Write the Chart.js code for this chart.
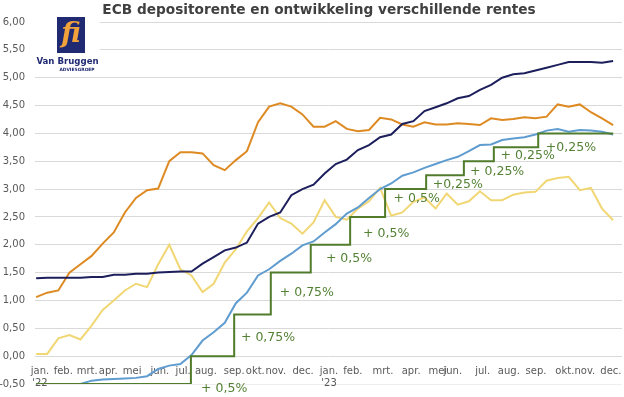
<!DOCTYPE html>
<html>
<head>
<meta charset="utf-8">
<script src="https://cdn.jsdelivr.net/npm/chart.js@4"></script>
<style>
html,body{margin:0;padding:0;background:#fff;}
#wrap{width:624px;height:397px;position:relative;}
</style>
</head>
<body>
<div id="wrap"><canvas id="c"></canvas></div>
<script>
// week index (0 = begin jan. 2022), sampled every two weeks
const weeks = [0,2,4,6,8,10,12,14,16,18,20,22,24,26,28,30,32,34,36,38,40,42,44,46,48,50,52,54,56,58,60,62,64,66,68,70,72,74,76,78,80,82,84,86,88,90,92,94,96,98,100,102,104];

const navySeries = [1.40,1.41,1.41,1.41,1.41,1.42,1.42,1.46,1.46,1.48,1.48,1.50,1.51,1.52,1.52,1.66,1.78,1.90,1.95,2.04,2.38,2.50,2.58,2.89,3.00,3.08,3.28,3.45,3.53,3.70,3.79,3.93,3.98,4.17,4.22,4.40,4.47,4.54,4.63,4.67,4.78,4.87,5.00,5.06,5.08,5.13,5.18,5.23,5.28,5.28,5.28,5.27,5.30];

const orangeSeries = [1.06,1.14,1.18,1.50,1.65,1.80,2.02,2.22,2.58,2.84,2.98,3.01,3.50,3.66,3.66,3.64,3.43,3.34,3.52,3.68,4.20,4.48,4.54,4.48,4.34,4.12,4.12,4.22,4.08,4.04,4.06,4.28,4.25,4.16,4.12,4.20,4.16,4.16,4.18,4.17,4.15,4.27,4.24,4.26,4.29,4.27,4.30,4.52,4.48,4.52,4.38,4.27,4.15];

const blueSeries = [-0.50,-0.50,-0.50,-0.50,-0.50,-0.44,-0.42,-0.41,-0.40,-0.39,-0.36,-0.23,-0.17,-0.14,0.02,0.28,0.43,0.60,0.95,1.14,1.45,1.56,1.71,1.84,1.99,2.06,2.22,2.37,2.56,2.67,2.84,3.00,3.10,3.24,3.30,3.38,3.45,3.52,3.58,3.68,3.79,3.80,3.88,3.91,3.93,3.98,4.05,4.08,4.03,4.06,4.05,4.03,3.98];

const yellowSeries = [0.04,0.04,0.32,0.38,0.30,0.55,0.83,1.00,1.18,1.30,1.24,1.65,2.00,1.56,1.45,1.15,1.30,1.68,1.92,2.24,2.48,2.76,2.48,2.38,2.20,2.40,2.80,2.50,2.45,2.65,2.78,3.02,2.52,2.58,2.77,2.85,2.65,2.92,2.72,2.78,2.96,2.80,2.80,2.90,2.94,2.95,3.15,3.20,3.22,2.98,3.02,2.65,2.44];

// ECB deposit rate: week of change and new rate
const depositWeeks = [0,27.9,35.7,42.3,49.5,56.6,62.9,70.3,77.1,82.5,90.5,104];
const depositRates = [-0.50,0.00,0.75,1.50,2.00,2.50,3.00,3.25,3.50,3.75,4.00,4.00];

// month tick labels and where they sit (week index)
const tickWeeks = [0.7,4.9,9.2,13.0,17.3,22.3,26.5,30.6,35.7,39.5,43.2,48.1,52.8,57.1,62.5,67.6,72.4,75.1,80.5,85.2,90.1,95.3,98.9,103.6];
const tickLabels = [["jan.","'22"],"feb.","mrt.","apr.","mei","jun.","jul.","aug.","sep.","okt.","nov.","dec.",["jan.","'23"],"feb.","mrt.","apr.","mei","jun.","jul.","aug.","sep.","okt.","nov.","dec."];

// step annotations: text, week, value
const stepTexts = ["+ 0,5%","+ 0,75%","+ 0,75%","+ 0,5%","+ 0,5%","+ 0,5%","+0,25%","+ 0,25%","+ 0,25%","+0,25%"];
const stepWeeks = [33.9,41.8,48.8,56.4,63.1,68.6,76.0,83.1,88.6,96.4];
const stepValues = [-0.585,0.333,1.14,1.75,2.20,2.83,3.07,3.32,3.59,3.75];

const titleText = 'ECB depositorente en ontwikkeling verschillende rentes';

const pts = (xs, ys) => xs.map((x, i) => ({x: x, y: ys[i]}));
const FONT = "'DejaVu Sans', Verdana, sans-serif";

const annotPlugin = {
  id: 'annot',
  afterDatasetsDraw(chart) {
    const ctx = chart.ctx, xs = chart.scales.x, ys = chart.scales.y;
    ctx.save();
    ctx.font = "12.5px " + FONT;
    ctx.fillStyle = '#548235';
    ctx.textAlign = 'center';
    ctx.textBaseline = 'middle';
    stepTexts.forEach((t, i) => {
      ctx.fillText(t, xs.getPixelForValue(stepWeeks[i]), ys.getPixelForValue(stepValues[i]));
    });
    ctx.restore();
  }
};

const titleLogoPlugin = {
  id: 'titleLogo',
  afterDraw(chart) {
    const ctx = chart.ctx;
    ctx.save();
    // title
    ctx.fillStyle = '#404040';
    ctx.font = "bold 13.7px " + FONT;
    ctx.textAlign = 'center';
    ctx.textBaseline = 'middle';
    ctx.fillText(titleText, 319, 10);
    // logo
    ctx.fillStyle = '#ffffff';
    ctx.fillRect(30, 0, 70, 74);
    ctx.fillStyle = '#1f2a72';
    ctx.fillRect(57, 17, 28, 36);
    ctx.fillStyle = '#f2a23a';
    ctx.font = "italic bold 27px 'DejaVu Serif', serif";
    ctx.fillText('fi', 71, 35);
    ctx.fillStyle = '#1f2a72';
    ctx.font = "bold 8.6px " + FONT;
    ctx.fillText('Van Bruggen', 67.5, 62);
    ctx.font = "bold 4.4px " + FONT;
    ctx.fillText('ADVIESGROEP', 77, 70);
    ctx.restore();
  }
};

const noPad = (s) => { s.paddingLeft = 0; s.paddingRight = 0; s.paddingTop = 0; s.paddingBottom = 0; };

new Chart(document.getElementById('c'), {
  type: 'line',
  data: {
    datasets: [
      {label: 'ECB depositorente', data: pts(depositWeeks, depositRates), borderColor: '#507c2c', borderWidth: 2, stepped: 'before', order: 0},
      {label: 'navy', data: pts(weeks, navySeries), borderColor: '#1c1f5c', borderWidth: 2, order: 1},
      {label: 'blue', data: pts(weeks, blueSeries), borderColor: '#5f9ccf', borderWidth: 2, order: 2},
      {label: 'yellow', data: pts(weeks, yellowSeries), borderColor: '#f1d774', borderWidth: 2, order: 3},
      {label: 'orange', data: pts(weeks, orangeSeries), borderColor: '#de8a22', borderWidth: 2, order: 4}
    ]
  },
  options: {
    responsive: true,
    maintainAspectRatio: false,
    animation: false,
    elements: {point: {radius: 0}, line: {tension: 0, fill: false}},
    layout: {padding: {left: 0, right: 2, top: 22, bottom: 13}},
    plugins: {
      legend: {display: false},
      tooltip: {enabled: false},
      title: {display: false}
    },
    scales: {
      x: {
        type: 'linear',
        min: -0.2,
        max: 105.6,
        position: {y: 0},
        grid: {display: false, drawTicks: false},
        border: {display: false},
        afterBuildTicks: (s) => { s.ticks = tickWeeks.map(v => ({value: v})); },
        afterFit: noPad,
        ticks: {
          autoSkip: false,
          maxRotation: 0,
          padding: 9,
          color: '#595959',
          font: {family: FONT, size: 10},
          callback: (v, i) => tickLabels[i]
        }
      },
      y: {
        min: -0.5,
        max: 6,
        afterFit: (s) => { s.width = 35; noPad(s); },
        grid: {color: (c) => c.tick && c.tick.value === -0.5 ? '#eeeeee' : '#d9d9d9', drawTicks: false},
        border: {display: false},
        ticks: {
          stepSize: 0.5,
          padding: 10,
          color: '#595959',
          font: {family: FONT, size: 10},
          callback: (v) => v.toFixed(2).replace('.', ',')
        }
      }
    }
  },
  plugins: [annotPlugin, titleLogoPlugin]
});
</script>
</body>
</html>
